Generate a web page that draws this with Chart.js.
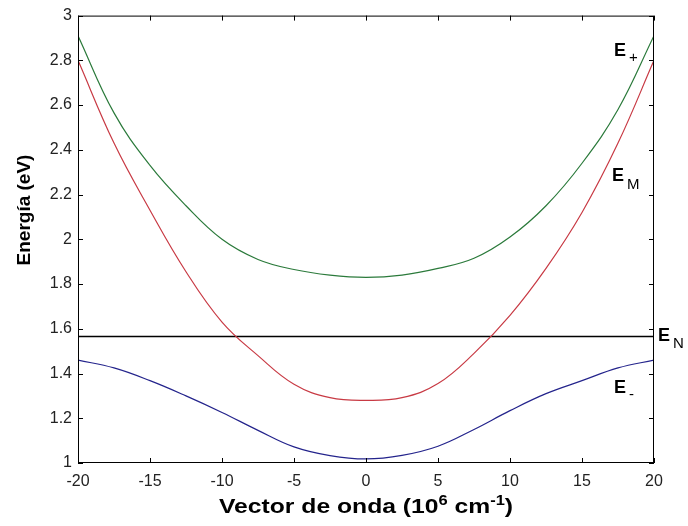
<!DOCTYPE html>
<html>
<head>
<meta charset="utf-8">
<script src="https://cdn.jsdelivr.net/npm/chart.js@4.4.1/dist/chart.umd.min.js"></script>
<style>
  html, body { margin: 0; padding: 0; background: #fff; }
  #wrap { width: 688px; height: 526px; }
</style>
</head>
<body>
<div id="wrap"><canvas id="bandChart" width="688" height="526"></canvas></div>
<script>
// wave vector (10^6 cm^-1)
const kVals   = [-20, -17.5, -15, -12.5, -10, -7.5, -5, -2.5, 0, 2.5, 5, 7.5, 10, 12.5, 15, 17.5, 20];
// energies (eV)
const ePlus   = [2.91, 2.565, 2.33, 2.15, 2.00, 1.91, 1.865, 1.84, 1.83, 1.84, 1.87, 1.915, 2.01, 2.15, 2.34, 2.58, 2.91];
const eMid    = [2.80, 2.43, 2.13, 1.855, 1.63, 1.48, 1.352, 1.292, 1.28, 1.292, 1.355, 1.49, 1.66, 1.87, 2.12, 2.43, 2.80];
const eMinus  = [1.46, 1.425, 1.368, 1.30, 1.226, 1.146, 1.072, 1.033, 1.018, 1.034, 1.075, 1.15, 1.234, 1.31, 1.368, 1.425, 1.46];
const eN      = 1.565;
const xTicks  = [-20, -15, -10, -5, 0, 5, 10, 15, 20];
const yTicks  = [1, 1.2, 1.4, 1.6, 1.8, 2, 2.2, 2.4, 2.6, 2.8, 3];

const pts = ys => kVals.map((k, i) => ({x: k, y: ys[i]}));

// inward ticks on all four sides, box, axis titles and curve labels
const matlabLook = {
    id: 'matlabLook',
    afterDraw(chart) {
        const c = chart.ctx, a = chart.chartArea;
        const xs = chart.scales.x, ys = chart.scales.y;
        c.save();
        c.strokeStyle = '#000';
        c.lineWidth = 1;
        c.strokeRect(a.left + 0.5, a.top + 0.5, a.right - a.left - 1, a.bottom - a.top - 1);
        c.beginPath();
        xTicks.forEach(v => {
            const px = Math.round(xs.getPixelForValue(v)) + 0.5;
            c.moveTo(px, a.bottom); c.lineTo(px, a.bottom - 5);
            c.moveTo(px, a.top); c.lineTo(px, a.top + 5);
        });
        yTicks.forEach(v => {
            const py = Math.round(ys.getPixelForValue(v)) + 0.5;
            c.moveTo(a.left, py); c.lineTo(a.left + 5, py);
            c.moveTo(a.right, py); c.lineTo(a.right - 5, py);
        });
        c.stroke();

        c.fillStyle = '#000';
        c.textBaseline = 'alphabetic';

        // x axis title with superscripts, slightly wide like the reference
        const big = 'bold 21px "Liberation Sans", Arial, sans-serif';
        const sup = 'bold 14px "Liberation Sans", Arial, sans-serif';
        const parts = [['Vector de onda (10', big, 0], ['6', sup, -8], [' cm', big, 0], ['-1', sup, -8], [')', big, 0]];
        let w = 0;
        parts.forEach(p => { c.font = p[1]; w += c.measureText(p[0]).width; });
        const stretch = 294 / w;
        c.save();
        c.translate((a.left + a.right) / 2 - 147, 513);
        c.scale(stretch, 1);
        let x0 = 0;
        parts.forEach(p => {
            c.font = p[1];
            c.textAlign = 'left';
            c.fillText(p[0], x0, p[2]);
            x0 += c.measureText(p[0]).width;
        });
        c.restore();

        // y axis title
        c.save();
        c.translate(30, 210);
        c.rotate(-Math.PI / 2);
        c.font = 'bold 19px "Liberation Sans", Arial, sans-serif';
        c.textAlign = 'center';
        c.fillText('Energía (eV)', 0, 0);
        c.restore();

        // curve labels
        const lab = (txt, sub, x, y, dy) => {
            c.font = 'bold 18px "Liberation Sans", Arial, sans-serif';
            c.textAlign = 'left';
            c.fillText(txt, x, y);
            const tw = c.measureText(txt).width;
            c.font = '15px "Liberation Sans", Arial, sans-serif';
            c.fillText(sub, x + tw + 3, y + dy);
        };
        lab('E', '+', 614, 56, 6);
        lab('E', 'M', 612, 181, 8);
        lab('E', 'N', 658, 341, 7);
        lab('E', '-', 614, 393, 6);
        c.restore();
    }
};

const lineDs = (data, color) => ({
    data: pts(data),
    borderColor: color,
    borderWidth: 1.2,
    pointRadius: 0,
    tension: 0.4,
    fill: false
});

new Chart(document.getElementById('bandChart').getContext('2d'), {
    type: 'line',
    data: {
        datasets: [
            lineDs(ePlus, '#2b7a3b'),
            lineDs(eMid, '#c83a44'),
            lineDs(eMinus, '#24248c'),
            {
                data: [{x: -20, y: eN}, {x: 20, y: eN}],
                borderColor: '#000',
                borderWidth: 1.5,
                pointRadius: 0,
                fill: false
            }
        ]
    },
    options: {
        responsive: false,
        animation: false,
        events: [],
        layout: { padding: { top: 10, right: 34, left: 0, bottom: 0 } },
        plugins: { legend: { display: false }, tooltip: { enabled: false } },
        scales: {
            x: {
                type: 'linear',
                min: -20, max: 20,
                afterBuildTicks: s => { s.ticks = xTicks.map(v => ({value: v})); },
                afterFit: s => { s.height = 63; },
                grid: { display: false, drawTicks: false },
                border: { display: false },
                ticks: {
                    padding: 9,
                    color: '#222',
                    font: { family: '"Liberation Sans", Arial, sans-serif', size: 16 }
                }
            },
            y: {
                min: 1, max: 3,
                afterBuildTicks: s => { s.ticks = yTicks.map(v => ({value: v})); },
                afterFit: s => { s.width = 78; },
                grid: { display: false, drawTicks: false },
                border: { display: false },
                ticks: {
                    padding: 6,
                    color: '#222',
                    font: { family: '"Liberation Sans", Arial, sans-serif', size: 16 },
                    callback: v => String(Math.round(v * 10) / 10)
                }
            }
        }
    },
    plugins: [matlabLook]
});
</script>
</body>
</html>
